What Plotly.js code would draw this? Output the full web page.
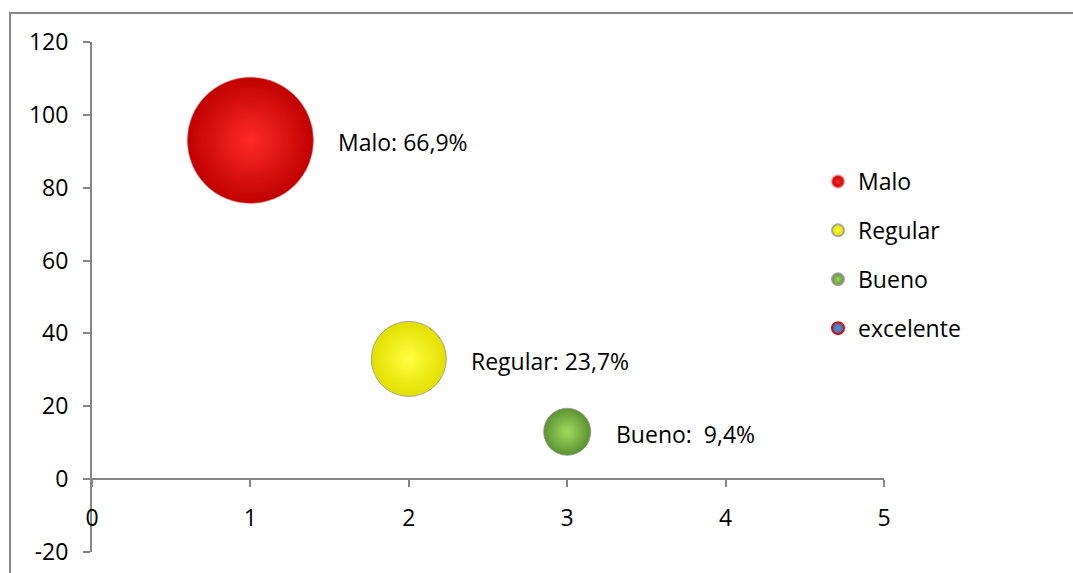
<!DOCTYPE html>
<html>
<head>
<meta charset="utf-8">
<script src="https://cdn.plot.ly/plotly-3.0.1.min.js"></script>
<style>html,body{margin:0;padding:0;background:#fff;}#chart{width:1073px;height:573px;}</style>
</head>
<body>
<div id="chart"></div>
<script>
// Data
const categories = ["Malo", "Regular", "Bueno", "excelente"];
const xValues = [1, 2, 3, null];
const yValues = [93, 33, 13, null];
const bubbleSizes = [93, 33, 13, null];
const labelTexts = ["Malo: 66,9%", "Regular: 23,7%", "Bueno:  9,4%"];
const yTickVals = [-20, 0, 20, 40, 60, 80, 100, 120];
const yTickText = ["-20", "0", "20", "40", "60", "80", "100", "120"];
const xTickVals = [0, 1, 2, 3, 4, 5];

const centerColors = ["#ff2a2a", "#ffff40", "#a0dc60", "#5b8fd0"];
const edgeColors = ["#c00000", "#e2de00", "#5a9230", "#3f6fa8"];
const rimColors = ["rgba(255,80,80,0.6)", "rgba(150,150,150,0.8)", "rgba(150,150,150,0.8)", "#d01010"];

const sizeref = 0.011716;
const FONT = "'Open Sans', Lato, sans-serif";
const FS = 23;

const traces = categories.map((name, i) => {
  const isBubble = bubbleSizes[i] !== null;
  return {
    type: "scatter",
    mode: "markers",
    name: name,
    legendgroup: name,
    x: [xValues[i]],
    y: [yValues[i]],
    marker: {
      size: isBubble ? [bubbleSizes[i]] : 14,
      sizemode: "area",
      sizeref: sizeref,
      opacity: 1,
      color: edgeColors[i],
      gradient: {type: "radial", color: centerColors[i]},
      line: {color: rimColors[i], width: isBubble ? 1 : 2}
    },
    hoverinfo: "skip"
  };
});

const annotations = labelTexts.map((t, i) => {
  const r = Math.sqrt((bubbleSizes[i] / 2) / sizeref);
  return {
    x: xValues[i], y: yValues[i], xref: "x", yref: "y",
    text: t, showarrow: false,
    xanchor: "left", yanchor: "middle",
    xshift: r + 23, yshift: -2,
    font: {family: FONT, size: FS, color: "#000"}
  };
});

const layout = {
  width: 1073, height: 573,
  margin: {l: 92, r: 189, t: 42, b: 21},
  paper_bgcolor: "#fff", plot_bgcolor: "#fff",
  font: {family: FONT, size: FS, color: "#000"},
  xaxis: {
    range: [0, 5], tickvals: xTickVals,
    showgrid: false, zeroline: false,
    showline: true, linecolor: "#868686", linewidth: 2,
    ticks: "outside", ticklen: 7, tickwidth: 2, tickcolor: "#868686",
    anchor: "free", position: 20 / 140,
    ticklabelstandoff: 11,
    fixedrange: true
  },
  yaxis: {
    range: [-20, 120], tickvals: yTickVals, ticktext: yTickText,
    showgrid: false, zeroline: false,
    showline: true, linecolor: "#868686", linewidth: 2,
    ticks: "outside", ticklen: 7, tickwidth: 2, tickcolor: "#868686",
    ticklabelstandoff: 10,
    fixedrange: true
  },
  showlegend: true,
  legend: {
    x: (818 - 92) / 792, y: (552 - 160) / 510,
    xanchor: "left", yanchor: "top",
    traceorder: "grouped", tracegroupgap: 16,
    itemsizing: "constant",
    font: {family: FONT, size: FS, color: "#000"},
    bgcolor: "rgba(0,0,0,0)"
  },
  annotations: annotations,
  shapes: [{
    type: "rect", xref: "paper", yref: "paper",
    x0: (10 - 92) / 792, x1: 1.5,
    y0: -0.5, y1: (552 - 13) / 510,
    line: {color: "#868686", width: 2}, fillcolor: "rgba(0,0,0,0)", layer: "below"
  }]
};

Plotly.newPlot("chart", traces, layout, {displayModeBar: false, staticPlot: true});
</script>
</body>
</html>
